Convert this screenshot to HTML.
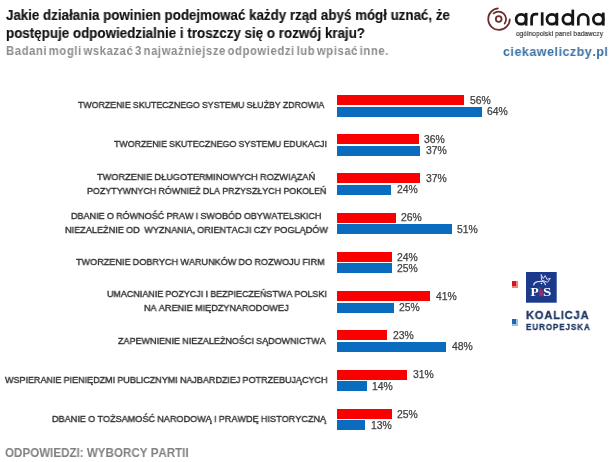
<!DOCTYPE html>
<html><head><meta charset="utf-8"><style>
html,body{margin:0;padding:0;background:#fff;}
body{width:616px;height:462px;position:relative;overflow:hidden;font-family:"Liberation Sans",sans-serif;}
.t{position:absolute;white-space:pre;font-kerning:none;transform-origin:0 0;will-change:transform;}
.b{position:absolute;}
</style></head><body>

<div class="t" style="-webkit-text-stroke:0.15px #111;left:5.80px;top:8.92px;font-size:13.8px;line-height:13.8px;font-weight:700;color:#111;transform:scaleX(0.9665);">Jakie działania powinien podejmować każdy rząd abyś mógł uznać, że</div>
<div class="t" style="-webkit-text-stroke:0.15px #111;left:5.80px;top:26.92px;font-size:13.8px;line-height:13.8px;font-weight:700;color:#111;transform:scaleX(0.9696);">postępuje odpowiedzialnie i troszczy się o rozwój kraju?</div>
<div class="t" style="letter-spacing:0.65px;word-spacing:-2.2px;left:5.80px;top:45.27px;font-size:12.2px;line-height:12.2px;font-weight:700;color:#8c8c8c;transform:scaleX(0.9233);">Badani mogli wskazać 3 najważniejsze odpowiedzi lub wpisać inne.</div>
<div class="t" style="left:4.70px;top:446.79px;font-size:12.3px;line-height:12.3px;font-weight:700;color:#808080;transform:scaleX(0.9435);">ODPOWIEDZI: WYBORCY PARTII</div>
<div class="t" style="-webkit-text-stroke:0.38px #303030;word-spacing:-0.3px;left:78.00px;top:100.41px;font-size:9.5px;line-height:9.5px;font-weight:400;color:#303030;transform:scaleX(0.9249);">TWORZENIE SKUTECZNEGO SYSTEMU SŁUŻBY ZDROWIA</div>
<div class="t" style="-webkit-text-stroke:0.38px #303030;word-spacing:-0.3px;left:113.60px;top:139.31px;font-size:9.5px;line-height:9.5px;font-weight:400;color:#303030;transform:scaleX(0.9292);">TWORZENIE SKUTECZNEGO SYSTEMU EDUKACJI</div>
<div class="t" style="-webkit-text-stroke:0.38px #303030;word-spacing:-0.3px;left:96.60px;top:172.31px;font-size:9.5px;line-height:9.5px;font-weight:400;color:#303030;transform:scaleX(0.9684);">TWORZENIE DŁUGOTERMINOWYCH ROZWIĄZAŃ</div>
<div class="t" style="-webkit-text-stroke:0.38px #303030;word-spacing:-0.3px;left:86.80px;top:185.51px;font-size:9.5px;line-height:9.5px;font-weight:400;color:#303030;transform:scaleX(0.9375);">POZYTYWNYCH RÓWNIEŻ DLA PRZYSZŁYCH POKOLEŃ</div>
<div class="t" style="-webkit-text-stroke:0.38px #303030;word-spacing:-0.3px;left:70.60px;top:211.41px;font-size:9.5px;line-height:9.5px;font-weight:400;color:#303030;transform:scaleX(0.9498);">DBANIE O RÓWNOŚĆ PRAW I SWOBÓD OBYWATELSKICH</div>
<div class="t" style="-webkit-text-stroke:0.38px #303030;word-spacing:-0.3px;left:64.70px;top:224.51px;font-size:9.5px;line-height:9.5px;font-weight:400;color:#303030;transform:scaleX(0.9607);">NIEZALEŻNIE OD  WYZNANIA, ORIENTACJI CZY POGLĄDÓW</div>
<div class="t" style="-webkit-text-stroke:0.38px #303030;word-spacing:-0.3px;left:76.00px;top:257.41px;font-size:9.5px;line-height:9.5px;font-weight:400;color:#303030;transform:scaleX(0.9556);">TWORZENIE DOBRYCH WARUNKÓW DO ROZWOJU FIRM</div>
<div class="t" style="-webkit-text-stroke:0.38px #303030;word-spacing:-0.3px;left:106.70px;top:289.31px;font-size:9.5px;line-height:9.5px;font-weight:400;color:#303030;transform:scaleX(0.9427);">UMACNIANIE POZYCJI I BEZPIECZEŃSTWA POLSKI</div>
<div class="t" style="-webkit-text-stroke:0.38px #303030;word-spacing:-0.3px;left:144.00px;top:302.61px;font-size:9.5px;line-height:9.5px;font-weight:400;color:#303030;transform:scaleX(0.9581);">NA ARENIE MIĘDZYNARODOWEJ</div>
<div class="t" style="-webkit-text-stroke:0.38px #303030;word-spacing:-0.3px;left:117.50px;top:335.61px;font-size:9.5px;line-height:9.5px;font-weight:400;color:#303030;transform:scaleX(0.9484);">ZAPEWNIENIE NIEZALEŻNOŚCI SĄDOWNICTWA</div>
<div class="t" style="-webkit-text-stroke:0.38px #303030;word-spacing:-0.3px;left:4.80px;top:374.51px;font-size:9.5px;line-height:9.5px;font-weight:400;color:#303030;transform:scaleX(0.9461);">WSPIERANIE PIENIĘDZMI PUBLICZNYMI NAJBARDZIEJ POTRZEBUJĄCYCH</div>
<div class="t" style="-webkit-text-stroke:0.38px #303030;word-spacing:-0.3px;left:52.00px;top:413.51px;font-size:9.5px;line-height:9.5px;font-weight:400;color:#303030;transform:scaleX(0.9570);">DBANIE O TOŻSAMOŚĆ NARODOWĄ I PRAWDĘ HISTORYCZNĄ</div>
<div class="t" style="-webkit-text-stroke:0.25px #404040;left:469.50px;top:95.68px;font-size:10.4px;line-height:10.4px;font-weight:400;color:#404040;">56%</div>
<div class="t" style="-webkit-text-stroke:0.25px #404040;left:487.30px;top:106.88px;font-size:10.4px;line-height:10.4px;font-weight:400;color:#404040;">64%</div>
<div class="t" style="-webkit-text-stroke:0.25px #404040;left:424.20px;top:134.92px;font-size:10.4px;line-height:10.4px;font-weight:400;color:#404040;">36%</div>
<div class="t" style="-webkit-text-stroke:0.25px #404040;left:425.50px;top:146.12px;font-size:10.4px;line-height:10.4px;font-weight:400;color:#404040;">37%</div>
<div class="t" style="-webkit-text-stroke:0.25px #404040;left:425.50px;top:174.16px;font-size:10.4px;line-height:10.4px;font-weight:400;color:#404040;">37%</div>
<div class="t" style="-webkit-text-stroke:0.25px #404040;left:396.60px;top:185.36px;font-size:10.4px;line-height:10.4px;font-weight:400;color:#404040;">24%</div>
<div class="t" style="-webkit-text-stroke:0.25px #404040;left:401.30px;top:213.40px;font-size:10.4px;line-height:10.4px;font-weight:400;color:#404040;">26%</div>
<div class="t" style="-webkit-text-stroke:0.25px #404040;left:457.30px;top:224.60px;font-size:10.4px;line-height:10.4px;font-weight:400;color:#404040;">51%</div>
<div class="t" style="-webkit-text-stroke:0.25px #404040;left:397.40px;top:252.64px;font-size:10.4px;line-height:10.4px;font-weight:400;color:#404040;">24%</div>
<div class="t" style="-webkit-text-stroke:0.25px #404040;left:397.40px;top:263.84px;font-size:10.4px;line-height:10.4px;font-weight:400;color:#404040;">25%</div>
<div class="t" style="-webkit-text-stroke:0.25px #404040;left:435.50px;top:291.88px;font-size:10.4px;line-height:10.4px;font-weight:400;color:#404040;">41%</div>
<div class="t" style="-webkit-text-stroke:0.25px #404040;left:399.10px;top:303.08px;font-size:10.4px;line-height:10.4px;font-weight:400;color:#404040;">25%</div>
<div class="t" style="-webkit-text-stroke:0.25px #404040;left:392.80px;top:331.12px;font-size:10.4px;line-height:10.4px;font-weight:400;color:#404040;">23%</div>
<div class="t" style="-webkit-text-stroke:0.25px #404040;left:451.70px;top:342.32px;font-size:10.4px;line-height:10.4px;font-weight:400;color:#404040;">48%</div>
<div class="t" style="-webkit-text-stroke:0.25px #404040;left:412.60px;top:370.36px;font-size:10.4px;line-height:10.4px;font-weight:400;color:#404040;">31%</div>
<div class="t" style="-webkit-text-stroke:0.25px #404040;left:372.40px;top:381.56px;font-size:10.4px;line-height:10.4px;font-weight:400;color:#404040;">14%</div>
<div class="t" style="-webkit-text-stroke:0.25px #404040;left:397.20px;top:409.60px;font-size:10.4px;line-height:10.4px;font-weight:400;color:#404040;">25%</div>
<div class="t" style="-webkit-text-stroke:0.25px #404040;left:370.60px;top:420.80px;font-size:10.4px;line-height:10.4px;font-weight:400;color:#404040;">13%</div>
<div class="t" style="-webkit-text-stroke:0.35px #1e3764;letter-spacing:0.9px;left:526.40px;top:309.48px;font-size:11.6px;line-height:11.6px;font-weight:700;color:#1e3764;transform:scaleX(0.9549);">KOALICJA</div>
<div class="t" style="-webkit-text-stroke:0.3px #1e3764;letter-spacing:1.0px;left:526.00px;top:323.25px;font-size:8.6px;line-height:8.6px;font-weight:700;color:#1e3764;transform:scaleX(0.9352);">EUROPEJSKA</div>
<div class="t" style="-webkit-text-stroke:0.2px #333333;letter-spacing:0.2px;left:516.40px;top:30.44px;font-size:7.4px;line-height:7.4px;font-weight:400;color:#333333;transform:scaleX(0.8569);">ogólnopolski panel badawczy</div>
<div class="t" style="letter-spacing:0.5px;left:502.70px;top:45.76px;font-size:12.8px;line-height:12.8px;font-weight:700;color:#3a71a6;transform:scaleX(0.9791);">ciekaweliczby.pl</div>
<div class="b" style="left:336.70px;top:95.00px;width:127.30px;height:10.00px;background:#fb0000"></div>
<div class="b" style="left:336.70px;top:106.50px;width:145.10px;height:10.00px;background:#0a6cbf"></div>
<div class="b" style="left:336.70px;top:134.24px;width:82.00px;height:10.00px;background:#fb0000"></div>
<div class="b" style="left:336.70px;top:145.74px;width:83.30px;height:10.00px;background:#0a6cbf"></div>
<div class="b" style="left:336.70px;top:173.48px;width:83.30px;height:10.00px;background:#fb0000"></div>
<div class="b" style="left:336.70px;top:184.98px;width:54.40px;height:10.00px;background:#0a6cbf"></div>
<div class="b" style="left:336.70px;top:212.72px;width:59.10px;height:10.00px;background:#fb0000"></div>
<div class="b" style="left:336.70px;top:224.22px;width:115.10px;height:10.00px;background:#0a6cbf"></div>
<div class="b" style="left:336.70px;top:251.96px;width:55.20px;height:10.00px;background:#fb0000"></div>
<div class="b" style="left:336.70px;top:263.46px;width:55.20px;height:10.00px;background:#0a6cbf"></div>
<div class="b" style="left:336.70px;top:291.20px;width:93.30px;height:10.00px;background:#fb0000"></div>
<div class="b" style="left:336.70px;top:302.70px;width:56.90px;height:10.00px;background:#0a6cbf"></div>
<div class="b" style="left:336.70px;top:330.44px;width:50.60px;height:10.00px;background:#fb0000"></div>
<div class="b" style="left:336.70px;top:341.94px;width:109.50px;height:10.00px;background:#0a6cbf"></div>
<div class="b" style="left:336.70px;top:369.68px;width:70.40px;height:10.00px;background:#fb0000"></div>
<div class="b" style="left:336.70px;top:381.18px;width:30.20px;height:10.00px;background:#0a6cbf"></div>
<div class="b" style="left:336.70px;top:408.92px;width:55.00px;height:10.00px;background:#fb0000"></div>
<div class="b" style="left:336.70px;top:420.42px;width:28.40px;height:10.00px;background:#0a6cbf"></div>
<div class="b" style="left:512px;top:281px;width:6px;height:6.5px;background:#f07f7f"></div>
<div class="b" style="left:512px;top:281px;width:4px;height:5px;background:#d01818"></div>
<div class="b" style="left:512px;top:319px;width:6px;height:6.5px;background:#9cc2e6"></div>
<div class="b" style="left:512px;top:319px;width:4px;height:5px;background:#1a68b0"></div>
<svg style="position:absolute;left:0;top:0;will-change:transform" width="616" height="462" viewBox="0 0 616 462">
<!-- ariadna icon -->
<g fill="none" stroke="#6e2b30" stroke-width="1.75" stroke-linecap="round">
<path d="M497.9 8.36 A10.8 10.8 0 1 0 509.8 19.3"/>
<path d="M493.6 13.4 A7.6 7.6 0 0 1 504.7 23.6"/>
<circle cx="498.7" cy="19.0" r="2.85"/>
</g>
<!-- ariadna wordmark -->
<g fill="none" stroke="#161616" stroke-width="2.7">
<circle cx="521.1" cy="19.25" r="4.95"/>
<path d="M526.1 12.9 V25.6"/>
<path d="M531.6 25.6 V18.4 Q531.6 14.15 535.6 14.15 H538.2"/>
<path d="M542.2 12.3 V25.6"/>
<circle cx="551.9" cy="19.25" r="4.95"/>
<path d="M556.9 12.9 V25.6"/>
<circle cx="567.8" cy="19.25" r="4.95"/>
<path d="M572.8 9.6 V25.6"/>
<path d="M578.3 25.6 V19.2 A4.95 4.95 0 0 1 588.2 19.2 V25.6"/>
<circle cx="598.3" cy="19.25" r="4.95"/>
<path d="M603.3 12.6 V25.6"/>
</g>
<!-- PiS logo -->
<rect x="526" y="272" width="30.7" height="30.7" fill="#1b3a8c"/>
<g fill="none" stroke="#d2d2f2" stroke-width="1" stroke-linejoin="round" stroke-linecap="round">
<path d="M541.3 274.8 L543.2 278.6 L545.2 275.6 L546.9 279.4 L550.3 278.3 L547.6 282.2 L541.9 280.2 Z"/>
<path d="M533.7 284.9 Q534.2 282.2 537.6 281.7 Q541.6 281.1 543.6 281.7 Q545.0 282.7 545.4 284.6" stroke-width="1.3"/>
</g>
<circle cx="541.4" cy="283.5" r="0.8" fill="#f4f4ff"/>
<text x="530.4" y="296.3" font-family="Liberation Serif" font-weight="700" font-size="13.4" fill="#fff">P</text>
<text x="543.0" y="296.3" font-family="Liberation Serif" font-weight="700" font-size="13.4" fill="#fff" transform="translate(543 0) scale(1.12 1) translate(-543 0)">S</text>
<path d="M538.9 296.2 V291.6 Q538.9 289.6 541 289.6 Q543 289.6 543 291.6 V296.2 Z" fill="#8e2f72"/>
<path d="M539.6 287.2 L540.6 289.2" stroke="#c43a5a" stroke-width="0.9"/>
</svg>

</body></html>
